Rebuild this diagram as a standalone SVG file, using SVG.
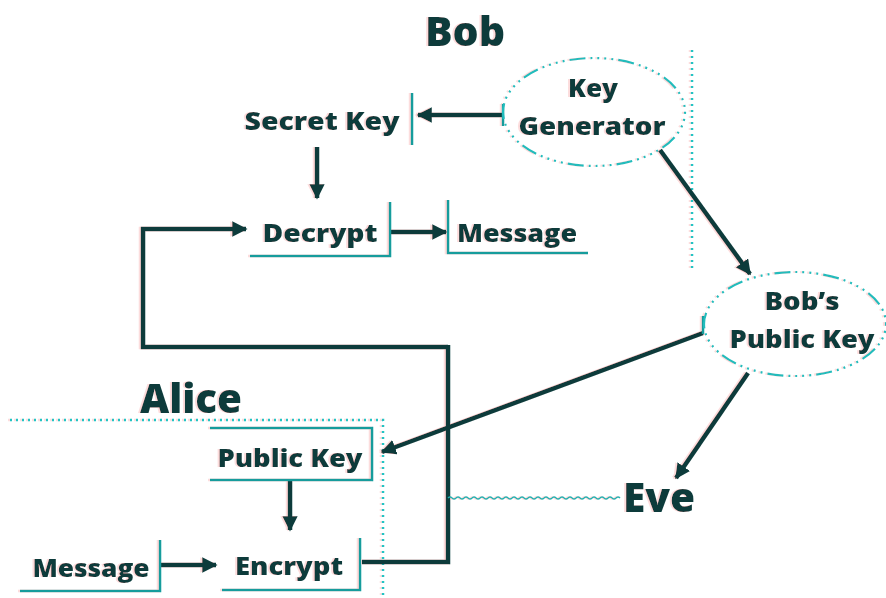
<svg xmlns="http://www.w3.org/2000/svg" width="886" height="598" viewBox="0 0 886 598">
<defs>
<marker id="ah" viewBox="0 0 10 10" refX="9" refY="5" markerWidth="3.4" markerHeight="3.4" orient="auto" markerUnits="strokeWidth">
<path d="M0,0 L10,5 L0,10 z" fill="#0b3b3b"/>
</marker>
<filter id="fringe" x="-5%" y="-5%" width="110%" height="110%">
<feOffset in="SourceAlpha" dx="-2" dy="0" result="o"/>
<feColorMatrix in="o" type="matrix" values="0 0 0 0 0.95  0 0 0 0 0.45  0 0 0 0 0.45  0 0 0 0.45 0" result="r"/>
<feMerge><feMergeNode in="r"/><feMergeNode in="SourceGraphic"/></feMerge>
</filter>
</defs>
<style>
text{font-family:"Open Sans","Noto Sans","DejaVu Sans",sans-serif;font-weight:800;fill:#0b3b3b;text-anchor:middle}
.lbl{font-size:24px}
.big{font-size:40px}
.br{fill:none;stroke:#139c9c;stroke-width:2.5}
.dot{fill:none;stroke:#22c4c4;stroke-width:2.5;stroke-dasharray:2 4}
.ell{fill:none;stroke:#22bcbc;stroke-width:2.2;stroke-dasharray:2 5 2 5 2 5 2 5 16 5}
.c{fill:none;stroke:#0b3b3b;stroke-width:4.5}
.ca{fill:none;stroke:#0b3b3b;stroke-width:4.5;marker-end:url(#ah)}
</style>
<rect width="886" height="598" fill="#ffffff"/>
<g filter="url(#fringe)">
<g id="regions">
<text x="465" y="46" class="big" textLength="80" lengthAdjust="spacingAndGlyphs">Bob</text>
<line x1="692" y1="50" x2="692" y2="270" class="dot"/>
<text x="191" y="413" class="big" textLength="102" lengthAdjust="spacingAndGlyphs">Alice</text>
<polyline points="10,420 383,420 383,598" class="dot"/>
</g>
<g id="connectors">
<line x1="503" y1="115" x2="418" y2="115" class="ca"/>
<line x1="503" y1="104" x2="503" y2="126" class="br"/>
<line x1="317" y1="147" x2="317" y2="198" class="ca"/>
<line x1="390" y1="232" x2="446" y2="232" class="ca"/>
<polyline points="448,347 143,347 143,229 246,229" class="ca"/>
<polyline points="362,562 448,562 448,345" class="c"/>
<line x1="660" y1="150" x2="750" y2="274" class="ca"/>
<line x1="703" y1="333" x2="382" y2="452" class="ca"/>
<line x1="703" y1="316" x2="703" y2="334" class="br"/>
<line x1="748" y1="373" x2="676" y2="478" class="ca"/>
<line x1="290" y1="480" x2="290" y2="530" class="ca"/>
<line x1="160" y1="565" x2="216" y2="565" class="ca"/>
<path d="M448,498 q2,-2 4,0 t4,0 t4,0 t4,0 t4,0 t4,0 t4,0 t4,0 t4,0 t4,0 t4,0 t4,0 t4,0 t4,0 t4,0 t4,0 t4,0 t4,0 t4,0 t4,0 t4,0 t4,0 t4,0 t4,0 t4,0 t4,0 t4,0 t4,0 t4,0 t4,0 t4,0 t4,0 t4,0 t4,0 t4,0 t4,0 t4,0 t4,0 t4,0 t4,0 t4,0 t4,0 t4,0" fill="none" stroke="#22b0b0" stroke-width="1.5"/>
</g>
<g id="keygen">
<ellipse cx="594" cy="112" rx="91" ry="54" class="ell"/>
<text x="593" y="97" class="lbl" textLength="50" lengthAdjust="spacingAndGlyphs">Key</text>
<text x="592" y="135" class="lbl" textLength="147" lengthAdjust="spacingAndGlyphs">Generator</text>
</g>
<g id="secretkey">
<text x="322" y="130" class="lbl" textLength="155" lengthAdjust="spacingAndGlyphs">Secret Key</text>
<line x1="412" y1="93" x2="412" y2="145" class="br"/>
</g>
<g id="decrypt">
<text x="320" y="242" class="lbl" textLength="115" lengthAdjust="spacingAndGlyphs">Decrypt</text>
<polyline points="250,256 390,256 390,202" class="br"/>
</g>
<g id="message-bob">
<text x="517" y="242" class="lbl" textLength="120" lengthAdjust="spacingAndGlyphs">Message</text>
<polyline points="448,200 448,253 588,253" class="br"/>
</g>
<g id="bobs-public-key">
<ellipse cx="795" cy="324" rx="91" ry="52" class="ell"/>
<text x="802" y="310" class="lbl" textLength="75" lengthAdjust="spacingAndGlyphs">Bob’s</text>
<text x="802" y="348" class="lbl" textLength="145" lengthAdjust="spacingAndGlyphs">Public Key</text>
</g>
<g id="eve">
<text x="659" y="512" class="big" textLength="72" lengthAdjust="spacingAndGlyphs">Eve</text>
</g>
<g id="public-key">
<text x="290" y="467" class="lbl" textLength="145" lengthAdjust="spacingAndGlyphs">Public Key</text>
<polyline points="210,428 372,428 372,480 210,480" class="br"/>
</g>
<g id="encrypt">
<text x="289" y="575" class="lbl" textLength="108" lengthAdjust="spacingAndGlyphs">Encrypt</text>
<polyline points="222,590 360,590 360,538" class="br"/>
</g>
<g id="message-alice">
<text x="91" y="577" class="lbl" textLength="117" lengthAdjust="spacingAndGlyphs">Message</text>
<polyline points="20,591 160,591 160,540" class="br"/>
</g>
</g>
</svg>
